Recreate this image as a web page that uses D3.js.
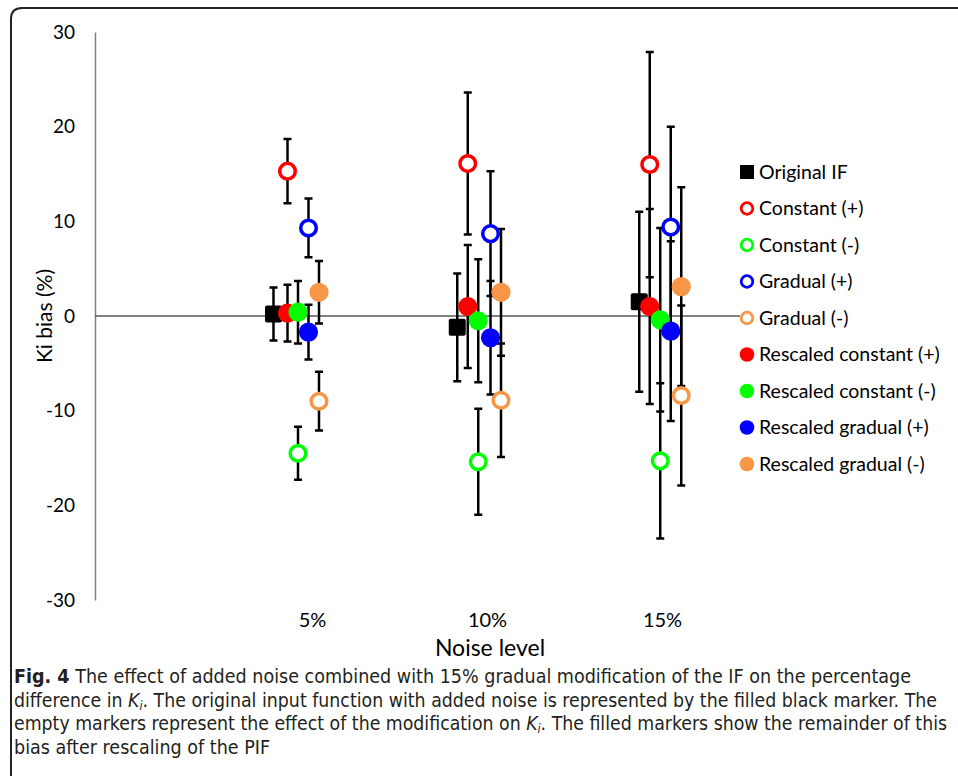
<!DOCTYPE html>
<html lang="en">
<head>
    <meta charset="UTF-8">
    <title>Ki bias vs noise level</title>
    <script src="https://d3js.org/d3.v7.min.js"></script>
    <style>
        body { margin: 0; background: #fff; }
        svg { display: block; }
        .chart-text { font-family: Lato, "Open Sans", sans-serif; fill: #000; }
        .caption { font-family: "Liberation Sans Narrow", "DejaVu Sans Condensed", "Open Sans", sans-serif; font-size: 19px; fill: #231f20; }
    </style>
</head>
<body>
<svg width="958" height="776"></svg>
<script>
    // categories on the x axis (placed at 1, 2, 3)
    const categories = ["5%", "10%", "15%"];
    const categoryPos = [1, 2, 3];
    const yTicks = [-30, -20, -10, 0, 10, 20, 30];

    // x positions of each marker column (axis units)
    const origX = [0.78, 1.83, 2.87];
    const redX = [0.86, 1.89, 2.93];
    const greenX = [0.92, 1.95, 2.99];
    const blueX = [0.98, 2.02, 3.05];
    const orangeX = [1.04, 2.08, 3.11];

    // Ki bias (%) and error bar half widths
    const origIF = [0.2, -1.2, 1.5];
    const origIFErr = [2.8, 5.7, 9.5];
    const constPlus = [15.3, 16.1, 16.0];
    const constPlusErr = [3.4, 7.5, 11.9];
    const constMinus = [-14.5, -15.4, -15.3];
    const constMinusErr = [2.8, 5.6, 8.2];
    const gradPlus = [9.3, 8.7, 9.4];
    const gradPlusErr = [3.1, 6.6, 10.6];
    const gradMinus = [-9.0, -8.9, -8.4];
    const gradMinusErr = [3.1, 6.0, 9.5];
    const rConstPlus = [0.3, 1.0, 1.0];
    const rConstPlusErr = [3.0, 6.5, 10.3];
    const rConstMinus = [0.4, -0.5, -0.4];
    const rConstMinusErr = [3.3, 6.5, 9.7];
    const rGradPlus = [-1.7, -2.3, -1.6];
    const rGradPlusErr = [2.9, 6.0, 9.5];
    const rGradMinus = [2.5, 2.5, 3.1];
    const rGradMinusErr = [3.3, 6.7, 10.5];

    const red = "#ff0000", green = "#00ff00", blue = "#0000ff", orange = "#f79646";

    const series = [
        { name: "Original IF", v: origIF, e: origIFErr, x: origX, color: "#000", shape: "square" },
        { name: "Constant (+)", v: constPlus, e: constPlusErr, x: redX, color: red, shape: "open" },
        { name: "Constant (-)", v: constMinus, e: constMinusErr, x: greenX, color: green, shape: "open" },
        { name: "Gradual (+)", v: gradPlus, e: gradPlusErr, x: blueX, color: blue, shape: "open" },
        { name: "Gradual (-)", v: gradMinus, e: gradMinusErr, x: orangeX, color: orange, shape: "open" },
        { name: "Rescaled constant (+)", v: rConstPlus, e: rConstPlusErr, x: redX, color: red, shape: "filled" },
        { name: "Rescaled constant (-)", v: rConstMinus, e: rConstMinusErr, x: greenX, color: green, shape: "filled" },
        { name: "Rescaled gradual (+)", v: rGradPlus, e: rGradPlusErr, x: blueX, color: blue, shape: "filled" },
        { name: "Rescaled gradual (-)", v: rGradMinus, e: rGradMinusErr, x: orangeX, color: orange, shape: "filled" }
    ];

    const points = series.flatMap((s, si) => s.v.map((v, i) => ({ s, si, v, e: s.e[i], x: s.x[i] })));

    const svg = d3.select("svg");

    const plotLeft = 95, plotRight = 740;
    const x = d3.scaleLinear().domain([1, 3]).range([312, 662]);
    const y = d3.scaleLinear().domain([-30, 30]).range([600, 32]);

    // frame around figure
    svg.append("path")
        .attr("d", "M11,776 L11,19 Q11,8 22,8 L958,8")
        .attr("fill", "none")
        .attr("stroke", "#222")
        .attr("stroke-width", 2);

    // y axis (plain hyphen for negatives, like the original)
    const yAxis = svg.append("g")
        .attr("class", "chart-text")
        .attr("transform", `translate(${plotLeft},0)`)
        .call(d3.axisLeft(y).tickValues(yTicks).tickFormat(d => String(d)).tickSize(0).tickSizeOuter(0).tickPadding(20));
    yAxis.select(".domain").attr("stroke", "#7f7f7f").attr("stroke-width", 1.5);
    yAxis.selectAll("text").attr("font-size", 19).attr("font-family", "Lato, sans-serif").attr("fill", "#000");

    // zero line
    svg.append("line")
        .attr("x1", plotLeft).attr("x2", plotRight)
        .attr("y1", y(0)).attr("y2", y(0))
        .attr("stroke", "#595959").attr("stroke-width", 1.5);

    // category labels
    const xAxis = svg.append("g")
        .attr("transform", `translate(0,600)`)
        .call(d3.axisBottom(x).tickValues(categoryPos).tickFormat((d, i) => categories[i]).tickSize(0).tickPadding(13));
    xAxis.select(".domain").remove();
    xAxis.selectAll("text").attr("font-size", 20).attr("font-family", "Lato, sans-serif").attr("fill", "#000");

    // axis titles
    svg.append("text")
        .attr("class", "chart-text")
        .attr("x", 490).attr("y", 656)
        .attr("text-anchor", "middle")
        .attr("font-size", 23)
        .text("Noise level");

    svg.append("text")
        .attr("class", "chart-text")
        .attr("transform", `translate(52,${y(0)}) rotate(-90)`)
        .attr("text-anchor", "middle")
        .attr("font-size", 21)
        .text("Ki bias (%)");

    // error bars
    const bars = svg.append("g").attr("stroke", "#000").attr("stroke-width", 2.5);
    bars.selectAll(".eb")
        .data(points)
        .enter().append("path")
        .attr("fill", "none")
        .attr("d", d => {
            const cx = x(d.x), t = y(d.v + d.e), b = y(d.v - d.e);
            return `M${cx},${t}V${b}M${cx - 4},${t}H${cx + 4}M${cx - 4},${b}H${cx + 4}`;
        });

    // markers, in series order
    const marks = svg.append("g");
    points.forEach(d => {
        const cx = x(d.x), cy = y(d.v);
        if (d.s.shape === "square") {
            marks.append("rect")
                .attr("x", cx - 8.5).attr("y", cy - 8.5)
                .attr("width", 17).attr("height", 17)
                .attr("rx", 2)
                .attr("fill", d.s.color);
        } else if (d.s.shape === "open") {
            marks.append("circle")
                .attr("cx", cx).attr("cy", cy).attr("r", 7.8)
                .attr("fill", "#fff")
                .attr("stroke", d.s.color)
                .attr("stroke-width", 3.5);
        } else {
            marks.append("circle")
                .attr("cx", cx).attr("cy", cy).attr("r", 9.6)
                .attr("fill", d.s.color);
        }
    });

    // legend
    const legend = svg.append("g").attr("transform", "translate(747,172)");
    const rows = legend.selectAll(".row")
        .data(series)
        .enter().append("g")
        .attr("transform", (d, i) => `translate(0,${i * 36.5})`);
    rows.each(function (d) {
        const r = d3.select(this);
        if (d.shape === "square") {
            r.append("rect").attr("x", -7).attr("y", -7).attr("width", 14).attr("height", 14).attr("fill", d.color);
        } else if (d.shape === "open") {
            r.append("circle").attr("r", 5.8).attr("fill", "#fff").attr("stroke", d.color).attr("stroke-width", 2.8);
        } else {
            r.append("circle").attr("r", 7.3).attr("fill", d.color);
        }
    });
    rows.append("text")
        .attr("class", "chart-text")
        .attr("x", 12)
        .attr("dy", "0.35em")
        .attr("font-size", 19.5)
        .text(d => d.name);

    // caption
    const captionLines = [
        { y: 683, len: 897 },
        { y: 706.5, len: 923 },
        { y: 730, len: 933 },
        { y: 753.5, len: 256 }
    ];
    const cap = captionLines.map(l => svg.append("text")
        .attr("class", "caption")
        .attr("x", 14).attr("y", l.y)
        .attr("textLength", l.len)
        .attr("lengthAdjust", "spacingAndGlyphs"));

    cap[0].append("tspan").attr("font-weight", "bold").text("Fig. 4");
    cap[0].append("tspan").text(" The effect of added noise combined with 15% gradual modification of the IF on the percentage");

    cap[1].append("tspan").text("difference in ");
    cap[1].append("tspan").attr("font-style", "italic").text("K");
    cap[1].append("tspan").attr("font-style", "italic").attr("font-size", 12).attr("baseline-shift", "-25%").text("i");
    cap[1].append("tspan").text(". The original input function with added noise is represented by the filled black marker. The");

    cap[2].append("tspan").text("empty markers represent the effect of the modification on ");
    cap[2].append("tspan").attr("font-style", "italic").text("K");
    cap[2].append("tspan").attr("font-style", "italic").attr("font-size", 12).attr("baseline-shift", "-25%").text("i");
    cap[2].append("tspan").text(". The filled markers show the remainder of this");

    cap[3].text("bias after rescaling of the PIF");
</script>
</body>
</html>
